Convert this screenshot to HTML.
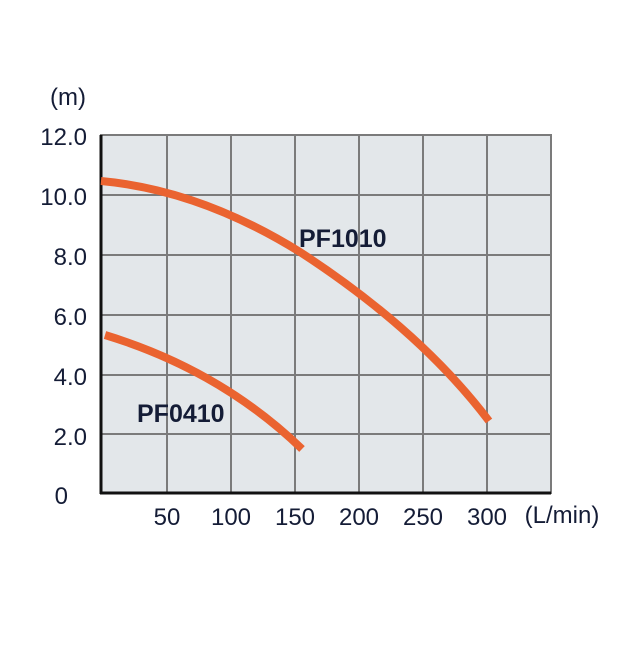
<!DOCTYPE html>
<html><head><style>body{margin:0;background:#fff}</style></head><body>
<svg width="640" height="640" xmlns="http://www.w3.org/2000/svg" font-family="'Liberation Sans',sans-serif">
<rect x="101" y="135" width="450" height="358" fill="#e3e7ea" stroke="#7b7b7b" stroke-width="2"/>
<g stroke="#7b7b7b" stroke-width="2">
<line x1="167" y1="135" x2="167" y2="493"/><line x1="231" y1="135" x2="231" y2="493"/>
<line x1="295" y1="135" x2="295" y2="493"/><line x1="359" y1="135" x2="359" y2="493"/>
<line x1="423" y1="135" x2="423" y2="493"/><line x1="487" y1="135" x2="487" y2="493"/>
<line x1="101" y1="195" x2="551" y2="195"/><line x1="101" y1="255" x2="551" y2="255"/>
<line x1="101" y1="315" x2="551" y2="315"/><line x1="101" y1="375" x2="551" y2="375"/>
<line x1="101" y1="434" x2="551" y2="434"/>
</g>
<line x1="101" y1="135" x2="101" y2="494" stroke="#111" stroke-width="3"/>
<line x1="100" y1="493" x2="551" y2="493" stroke="#111" stroke-width="3"/>
<g fill="none" stroke="#ea6330" stroke-width="8" stroke-linecap="butt">
<path d="M101,181 Q200,190 300,252 Q420,330 489,421"/>
<path d="M105,335 Q220,370 302,449"/>
</g>
<g fill="#141c36" font-size="24" text-anchor="end">
<text x="86" y="105">(m)</text>
<text x="87" y="145">12.0</text><text x="87" y="205">10.0</text>
<text x="87" y="265">8.0</text><text x="87" y="325">6.0</text>
<text x="87" y="385">4.0</text><text x="87" y="445">2.0</text>
<text x="68" y="504">0</text>
</g>
<g fill="#141c36" font-size="24" text-anchor="middle">
<text x="167" y="525">50</text><text x="231" y="525">100</text><text x="295" y="525">150</text>
<text x="359" y="525">200</text><text x="423" y="525">250</text><text x="487" y="525">300</text>
<text x="562" y="523">(L/min)</text>
</g>
<g fill="#141c36" font-size="25" font-weight="bold">
<text x="299" y="247">PF1010</text>
<text x="137" y="422">PF0410</text>
</g>
</svg>
</body></html>
